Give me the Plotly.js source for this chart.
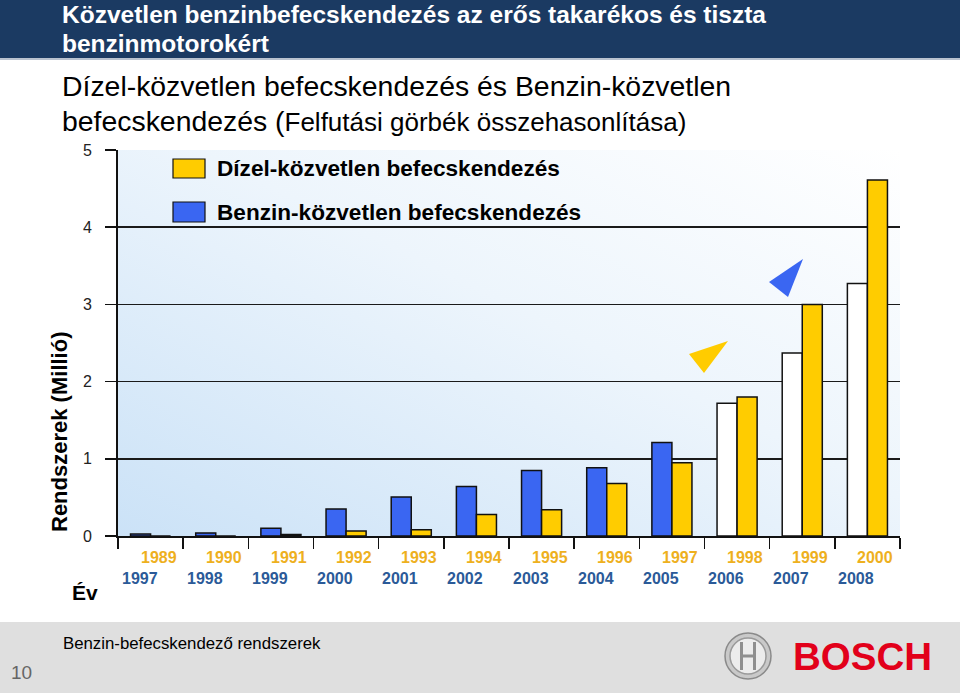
<!DOCTYPE html>
<html>
<head>
<meta charset="utf-8">
<script src="https://cdn.plot.ly/plotly-3.0.1.min.js"></script>
<style>
  html, body { margin: 0; padding: 0; background: #ffffff; }
  #chart { width: 960px; height: 693px; }
</style>
</head>
<body>
<div id="chart"></div>
<script>
// ---- data ----
const categories = ['1989/1997','1990/1998','1991/1999','1992/2000','1993/2001','1994/2002',
                    '1995/2003','1996/2004','1997/2005','1998/2006','1999/2007','2000/2008'];
const dieselYears = ['1989','1990','1991','1992','1993','1994','1995','1996','1997','1998','1999','2000'];
const petrolYears = ['1997','1998','1999','2000','2001','2002','2003','2004','2005','2006','2007','2008'];
const benzinValues = [0.025, 0.04, 0.10, 0.35, 0.505, 0.64, 0.85, 0.885, 1.21, 1.72, 2.37, 3.27];
const dizelValues  = [0, 0, 0.02, 0.065, 0.08, 0.28, 0.34, 0.68, 0.95, 1.80, 3.00, 4.61];
const benzinForecast = [false,false,false,false,false,false,false,false,false,true,true,true];

const benzinName = 'Benzin-közvetlen befecskendezés';
const dizelName  = 'Dízel-közvetlen befecskendezés';

// ---- styling ----
const BLUE = '#3a66f2', YELLOW = '#ffcc00', OUT = '#111111';
const FONT = 'Liberation Sans, Arial, sans-serif';
const L = 118, R = 60, T = 150, B = 157, W = 960, H = 693;
const PW = W - L - R, PH = H - T - B;
const px = x => (x - L) / PW;          // page pixel -> paper x
const py = y => (H - B - y) / PH;      // page pixel -> paper y

const traces = [
  {
    type: 'bar', name: benzinName, x: categories, y: benzinValues,
    marker: { color: benzinForecast.map(f => f ? '#ffffff' : BLUE), line: { color: OUT, width: 1.5 } },
    showlegend: false, hoverinfo: 'skip'
  },
  {
    type: 'bar', name: dizelName, x: categories, y: dizelValues,
    marker: { color: YELLOW, line: { color: OUT, width: 1.5 } },
    showlegend: false, hoverinfo: 'skip'
  }
];

const annotations = [];
function txt(text, x, y, size, opts) {
  annotations.push(Object.assign({
    text: text, xref: 'paper', yref: 'paper', x: px(x), y: py(y),
    xanchor: 'left', yanchor: 'middle', showarrow: false,
    font: { family: FONT, size: size, color: '#000' }
  }, opts || {}));
}
// header
txt('Közvetlen benzinbefecskendezés az erős takarékos és tiszta', 60, 14, 24.5,
    { font: { family: FONT, size: 24.5, color: '#ffffff', weight: 'bold' } });
txt('benzinmotorokért', 60, 44, 24.5,
    { font: { family: FONT, size: 24.5, color: '#ffffff', weight: 'bold' } });
// subtitle
txt('Dízel-közvetlen befecskendezés és Benzin-közvetlen', 60, 86, 28.4);
txt('befecskendezés (<span style="font-size:26px">Felfutási görbék összehasonlítása)</span>', 60, 121, 28.4);
// legend
txt(dizelName, 215, 169, 22.6, { font: { family: FONT, size: 22.6, color: '#000', weight: 'bold' } });
txt(benzinName, 215, 212, 22.6, { font: { family: FONT, size: 22.6, color: '#000', weight: 'bold' } });
// axis titles
txt('Rendszerek (Millió)', 59, 432, 22,
    { xanchor: 'center', textangle: -90, font: { family: FONT, size: 22, color: '#000', weight: 'bold' } });
txt('Év', 85, 592, 21, { xanchor: 'center', font: { family: FONT, size: 21, color: '#000', weight: 'bold' } });
// two-row year labels
categories.forEach((c, i) => {
  annotations.push({ text: dieselYears[i], xref: 'x', yref: 'paper', x: c, y: py(557),
    xanchor: 'center', yanchor: 'middle', xshift: 8, showarrow: false,
    font: { family: FONT, size: 16, color: '#eeb01e', weight: 'bold' } });
  annotations.push({ text: petrolYears[i], xref: 'x', yref: 'paper', x: c, y: py(578),
    xanchor: 'center', yanchor: 'middle', xshift: -11, showarrow: false,
    font: { family: FONT, size: 16, color: '#2b5a98', weight: 'bold' } });
});
// footer
txt('Benzin-befecskendező rendszerek', 61, 643, 16.8);
txt('10', 21, 672, 19, { xanchor: 'center', font: { family: FONT, size: 19, color: '#666' } });
txt('BOSCH', 791, 656, 38.5, { font: { family: FONT, size: 38.5, color: '#e2001a', weight: 'bold' } });

// background gradient for the plot area
const svg = "<svg xmlns='http://www.w3.org/2000/svg' width='100' height='100' viewBox='0 0 100 100' preserveAspectRatio='none'>" +
  "<defs><linearGradient id='g' x1='0' y1='1' x2='1' y2='0'>" +
  "<stop offset='0' stop-color='#cbe2f7'/><stop offset='0.55' stop-color='#edf5fc'/><stop offset='1' stop-color='#ffffff'/>" +
  "</linearGradient></defs><rect width='100' height='100' fill='url(#g)'/></svg>";

const rect = (x0, y0, x1, y1, fill, line) => ({
  type: 'rect', xref: 'paper', yref: 'paper', x0: px(x0), x1: px(x1), y0: py(y1), y1: py(y0),
  fillcolor: fill, line: line || { width: 0 }, layer: 'above'
});
const tri = (pts, fill) => ({
  type: 'path', xref: 'paper', yref: 'paper', layer: 'above', fillcolor: fill, line: { width: 0 },
  path: 'M' + pts.map(p => px(p[0]) + ',' + py(p[1])).join(' L') + ' Z'
});
const circ = (cx, cy, r, fill, lc) => ({
  type: 'circle', xref: 'paper', yref: 'paper', layer: 'above',
  x0: px(cx - r), x1: px(cx + r), y0: py(cy + r), y1: py(cy - r),
  fillcolor: fill, line: { color: lc, width: 1.5 }
});

const shapes = [
  rect(0, 0, 960, 58, '#1b3a62'),
  rect(0, 58, 960, 60, '#b9c2cf'),
  rect(0, 622, 960, 693, '#dfdfdf'),
  rect(173, 159, 205, 178, YELLOW, { color: OUT, width: 1.2 }),
  rect(173, 202, 205, 222, BLUE, { color: OUT, width: 1.2 }),
  tri([[689, 354], [728, 341], [704, 373]], YELLOW),
  tri([[769, 282], [803, 259], [788, 297]], BLUE),
  // Bosch emblem
  circ(748, 656, 23, '#c9c9c9', '#8a8a8a'),
  circ(748, 656, 18, '#ececec', '#9a9a9a'),
  rect(740, 642, 743, 670, '#8f8f8f'),
  rect(753, 642, 756, 670, '#8f8f8f'),
  rect(740, 654.5, 756, 657.5, '#8f8f8f')
];

const layout = {
  width: W, height: H,
  margin: { l: L, r: R, t: T, b: B, pad: 0 },
  paper_bgcolor: '#ffffff', plot_bgcolor: 'rgba(0,0,0,0)',
  barmode: 'group', bargap: 0.385, bargroupgap: 0,
  showlegend: false,
  font: { family: FONT, color: '#222' },
  xaxis: {
    type: 'category', showticklabels: false, tickson: 'boundaries',
    ticks: 'outside', ticklen: 11, tickwidth: 1.5, tickcolor: OUT,
    showline: true, linecolor: OUT, linewidth: 2, showgrid: false, zeroline: false
  },
  yaxis: {
    range: [0, 5], dtick: 1, tick0: 0,
    ticks: 'outside', ticklen: 11, tickwidth: 1.5, tickcolor: OUT,
    showline: true, linecolor: OUT, linewidth: 2,
    showgrid: true, gridcolor: '#1a1a1a', gridwidth: 1.5, zeroline: false,
    tickfont: { family: FONT, size: 16, color: '#222' }, ticklabelstandoff: 10
  },
  images: [{
    source: 'data:image/svg+xml;charset=utf-8,' + encodeURIComponent(svg),
    xref: 'paper', yref: 'paper', x: 0, y: 1, sizex: 1, sizey: 1,
    sizing: 'stretch', xanchor: 'left', yanchor: 'top', layer: 'below', opacity: 1
  }],
  shapes: shapes,
  annotations: annotations,
  hovermode: false
};

Plotly.newPlot('chart', traces, layout, { displayModeBar: false, staticPlot: true });
</script>
</body>
</html>
